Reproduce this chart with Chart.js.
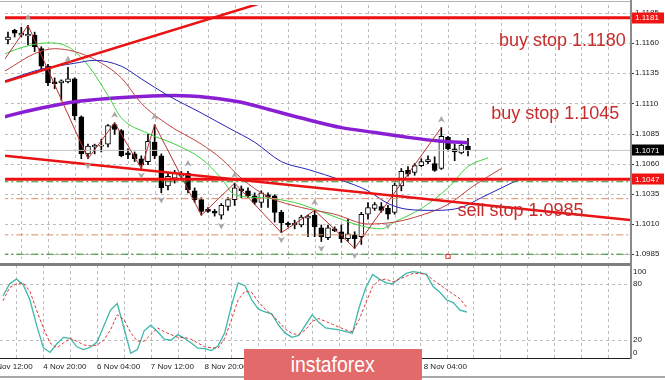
<!DOCTYPE html>
<html><head><meta charset="utf-8">
<script src="https://cdn.jsdelivr.net/npm/chart.js@4.4.1/dist/chart.umd.min.js"></script>
<style>
html,body{margin:0;padding:0;background:#fff;width:665px;height:380px;overflow:hidden;position:relative;font-family:'Liberation Sans',Arial,sans-serif}
canvas{position:absolute;left:0}
#cA{top:0}
#cB{top:264px}
.band{position:absolute;background:#7f7f7f}
#logo{position:absolute;left:244px;top:349px;width:178px;height:31px;background:#e36a6a;color:#fff;font-size:22px;text-align:center;line-height:31px}
#logo span{display:inline-block;transform:scaleX(0.88)}
</style></head><body>
<canvas id="cA" width="665" height="264"></canvas>
<canvas id="cB" width="665" height="116"></canvas>
<div class="band" style="left:0;top:263px;width:631px;height:3px"></div>
<div class="band" style="left:630px;top:0;width:1.5px;height:359px;background:#8a8a8a"></div>
<div class="band" style="left:0;top:376px;width:665px;height:2px;background:#a8a8a8"></div>
<div id="logo"><span>instaforex</span></div>
<script>
// ---- candles (H4 bars, index 0..69) ----
const opens  = [1.11625,1.11706,1.11666,1.11658,1.11666,1.11553,1.11408,1.11278,1.11270,1.11278,
                1.11303,1.10988,1.10681,1.10738,1.10746,1.10762,1.10923,1.10875,1.10689,1.10681,
                1.10641,1.10617,1.10778,1.10665,1.10415,1.10479,1.10496,1.10520,1.10375,1.10302,
                1.10221,1.10205,1.10173,1.10245,1.10302,1.10391,1.10375,1.10334,1.10278,1.10342,
                1.10334,1.10197,1.10108,1.10092,1.10092,1.10149,1.10173,1.10068,1.09987,1.10060,
                1.10036,1.09979,1.10011,1.09995,1.10181,1.10229,1.10245,1.10229,1.10197,1.10415,
                1.10544,1.10528,1.10584,1.10617,1.10601,1.10560,1.10818,1.10722,1.10689,1.10746];
const highs  = [1.11690,1.11714,1.11730,1.11746,1.11690,1.11569,1.11424,1.11311,1.11295,1.11399,
                1.11311,1.10996,1.10762,1.10762,1.10802,1.10923,1.10939,1.10883,1.10722,1.10697,
                1.10665,1.10843,1.10923,1.10681,1.10520,1.10544,1.10536,1.10536,1.10399,1.10318,
                1.10237,1.10221,1.10270,1.10318,1.10439,1.10415,1.10399,1.10358,1.10375,1.10358,
                1.10342,1.10213,1.10116,1.10132,1.10173,1.10173,1.10213,1.10092,1.10092,1.10076,
                1.10092,1.10141,1.10036,1.10197,1.10278,1.10278,1.10278,1.10254,1.10439,1.10560,
                1.10576,1.10601,1.10641,1.10665,1.10657,1.10899,1.10826,1.10762,1.10786,1.10810];
const lows   = [1.11593,1.11650,1.11650,1.11585,1.11529,1.11383,1.11246,1.11222,1.11125,1.11270,
                1.10964,1.10641,1.10641,1.10681,1.10697,1.10738,1.10843,1.10657,1.10641,1.10617,
                1.10560,1.10592,1.10641,1.10358,1.10383,1.10439,1.10471,1.10358,1.10278,1.10173,
                1.10197,1.10165,1.10141,1.10213,1.10254,1.10318,1.10318,1.10262,1.10237,1.10237,
                1.10116,1.10028,1.10076,1.10060,1.10076,1.09995,1.09995,1.09955,1.09971,1.10036,
                1.09947,1.09955,1.09898,1.09931,1.10141,1.10213,1.10197,1.10141,1.10181,1.10375,
                1.10496,1.10504,1.10576,1.10601,1.10536,1.10552,1.10705,1.10625,1.10681,1.10665];
const closes = [1.11650,1.11682,1.11682,1.11674,1.11569,1.11408,1.11270,1.11262,1.11287,1.11303,
                1.10996,1.10681,1.10746,1.10754,1.10754,1.10915,1.10883,1.10665,1.10673,1.10641,
                1.10592,1.10786,1.10665,1.10399,1.10496,1.10520,1.10512,1.10383,1.10302,1.10205,
                1.10205,1.10189,1.10254,1.10302,1.10399,1.10375,1.10334,1.10278,1.10358,1.10326,
                1.10197,1.10108,1.10092,1.10108,1.10157,1.10165,1.10076,1.09995,1.10068,1.10044,
                1.09979,1.10019,1.09979,1.10181,1.10237,1.10262,1.10213,1.10181,1.10423,1.10536,
                1.10512,1.10584,1.10617,1.10633,1.10544,1.10826,1.10722,1.10697,1.10754,1.10713];

// ---- indicators (bar index, price) ----
const maIdx = [-1,0,5,10,15,20,25,30,35,40,45,50,55,60,65,69];
const maVal = [1.10980,1.10996,1.11061,1.11113,1.11141,1.11157,1.11165,1.11149,1.11109,1.11036,1.10964,1.10899,1.10859,1.10818,1.10786,1.10774];
const jawIdx = [-1,0,5,10,13,17,20,24,29,33,37,41,45,50,54,57,60,64,68,71,77];
const jawVal = [1.11278,1.11295,1.11383,1.11432,1.11456,1.11408,1.11303,1.11165,1.11020,1.10899,1.10778,1.10617,1.10552,1.10463,1.10375,1.10270,1.10221,1.10213,1.10237,1.10318,1.10479];
const teethIdx = [-1,0,4,7,10,13,17,20,24,29,32,35,39,44,49,54,58,62,66,70,74];
const teethVal = [1.11351,1.11383,1.11512,1.11553,1.11529,1.11464,1.11311,1.11101,1.10923,1.10762,1.10641,1.10479,1.10326,1.10237,1.10181,1.10100,1.10116,1.10173,1.10262,1.10423,1.10560];
const lipsIdx = [-1,0,3,6,9,12,15,17,21,25,29,32,34,38,43,48,53,56,58,62,66,69,72];
const lipsVal = [1.11496,1.11521,1.11577,1.11601,1.11569,1.11416,1.11165,1.10980,1.10851,1.10762,1.10641,1.10479,1.10342,1.10318,1.10278,1.10181,1.10084,1.10060,1.10116,1.10229,1.10399,1.10576,1.10649];
const zigIdx = [-1,3,12,16,20,22,29,34,41,46,52,65];
const zigVal = [1.11424,1.11746,1.10641,1.10939,1.10560,1.10923,1.10173,1.10439,1.10028,1.10213,1.09898,1.10899];
const fractalUp = [3,9,16,22,27,34,46,65];
const fractalDown = [12,20,23,32,41,47,52,57];

// ---- drawn objects ----
const levelsRed = [1.1181, 1.1047];
const levelsGreen = [1.1045, 1.0985];
const levelsOrange = [1.1031, 1.1001];
const bidLevel = 1.1071;
const trendUpIdx = [-0.45, 40];   const trendUpVal = [1.11278, 1.11966];
const trendDownIdx = [-0.45, 93.3]; const trendDownVal = [1.10665, 1.10133];
const markIdx = [66]; const markVal = [1.0983];
const notes = ['buy stop 1.1180', 'buy stop 1.1045', 'sell stop 1.0985'];
const noteIdx = [73.66, 72.47, 67.41];
const noteVal = [1.11577, 1.10972, 1.10165];

// ---- axes ----
const priceTicks = [1.0985,1.1010,1.1035,1.1060,1.1085,1.1110,1.1135,1.1160,1.1185];
const boxValues = [1.1181, 1.1071, 1.1047];
const boxColors = ['#f01414', '#000000', '#f01414'];
const stochTicks = [100, 80, 20, 0];
const stochGrid = [20, 80];
const timeIdx = [-2, 6, 14, 22, 30, 62.6];
const timeLabels = ['4 Nov 12:00','4 Nov 20:00','6 Nov 04:00','7 Nov 12:00','8 Nov 20:00','8 Nov 04:00'];

// ---- stochastic ----
const stochMain = [67,80,85,79,63,36,12,7,16,23, 22,13,10,12.5,18,35,52,59,33,6,
                   10,30,36,29,21,20,26,22,17,11.5, 11,9,14,28,57,81,78,63,53,50,
                   48,36,27.5,23,25,36,47,39,33,32, 31,29,27.5,55,76,90,85,81,80,86,
                   91,93,92,90,77,71,63,60,52,50];
const stochSignal = [62,76,80,81,72,52,33,17,12,17, 22,19,15,14,14.7,20,31,47,42,28,
                     19,19,26,33,29,26,23,23,21,17, 13,12,11.5,22,42,63,72,71,61,53,
                     47,40,32,27,26,31,40,43,40,37, 34,31,29,42,60,77,84,85,82,85,
                     88,91,91,90,84,79,74,69,64,55];

const X_MIN = -0.446, X_MAX = 93.3;
const gridColor = '#bdbdbd';
const gridIdx = []; for (let i = 2; i < 94; i += 4) gridIdx.push(i);

function L(idx, vals, color, width, dash, order, extra) {
  return Object.assign({type:'line', data: idx.map((x,k)=>({x:x, y:vals[k]})),
    borderColor:color, borderWidth:width, borderDash:dash||[], pointRadius:0,
    fill:false, tension:0, order:order}, extra||{});
}
function xScale(h) {
  return {type:'linear', min:X_MIN, max:X_MAX, offset:false,
    afterFit:s=>{ s.height = h; s.paddingLeft = 0; s.paddingRight = 0; },
    grid:{display:false}, border:{display:false}, ticks:{display:false}};
}
function arrow(ctx, px, py, dir) {
  ctx.beginPath();
  ctx.moveTo(px, py - 3.5*dir);
  ctx.lineTo(px + 3.5, py + 3*dir);
  ctx.lineTo(px, py + 1.2*dir);
  ctx.lineTo(px - 3.5, py + 3*dir);
  ctx.closePath(); ctx.fill();
}
// dotted grid drawn through the chart's own scales
function gridPlugin(yTicks, tickMarks) {
  return {
    id:'dotGrid',
    beforeDatasetsDraw(chart) {
      const {ctx, scales:{x, y}, chartArea:ca} = chart;
      ctx.save();
      ctx.strokeStyle = gridColor; ctx.lineWidth = 1; ctx.setLineDash([3,3]);
      ctx.beginPath();
      gridIdx.forEach(v=>{
        const px = Math.round(x.getPixelForValue(v)) + 0.5;
        if (px < ca.left || px > ca.right) return;
        ctx.moveTo(px, ca.top); ctx.lineTo(px, ca.bottom);
      });
      yTicks.forEach(v=>{
        const py = Math.round(y.getPixelForValue(v)) + 0.5;
        ctx.moveTo(ca.left, py); ctx.lineTo(ca.right, py);
      });
      ctx.stroke();
      if (tickMarks) {
        ctx.setLineDash([]); ctx.strokeStyle = '#404040'; ctx.beginPath();
        yTicks.forEach(v=>{
          const py = Math.round(y.getPixelForValue(v)) + 0.5;
          ctx.moveTo(ca.right + 1, py); ctx.lineTo(ca.right + 4, py);
        });
        ctx.stroke();
      }
      ctx.restore();
    }
  };
}

const bull = closes.map((c,i)=>c >= opens[i]);
const dsA = [
  {type:'bar', data: lows.map((l,i)=>({x:i, y:[l, highs[i]]})), backgroundColor:'#000', barThickness:1, grouped:false, order:11},
  {type:'bar', data: opens.map((o,i)=>({x:i, y:[o, closes[i]]})), backgroundColor: bull.map(b=>b?'#ffffff':'#000000'),
    borderColor:'#000', borderWidth:1, borderSkipped:false, barThickness:5, grouped:false, order:10},
  L(maIdx, maVal, '#8a1ed2', 3.5, [], 6, {cubicInterpolationMode:'monotone'}),
  L(jawIdx, jawVal, '#2424b8', 1, [], 5, {cubicInterpolationMode:'monotone'}),
  L(teethIdx, teethVal, '#c04040', 1, [], 5, {cubicInterpolationMode:'monotone'}),
  L(lipsIdx, lipsVal, '#3cd23c', 1, [], 5, {cubicInterpolationMode:'monotone'}),
  L(zigIdx, zigVal, '#b83030', 1, [], 4),
  L([-1,95], [bidLevel,bidLevel], '#c4c4c4', 1, [], 7),
  ...levelsGreen.map(v=>L([-1,95],[v,v],'#2a8a2a',1,[7,3,2,3],3)),
  ...levelsOrange.map(v=>L([-1,95],[v,v],'#e08a6a',1,[7,3,2,3],3)),
  ...levelsRed.map(v=>L([-1,95],[v,v],'#ee1010',3,[],1)),
  L(trendUpIdx, trendUpVal, '#ea1212', 2.5, [], 1),
  L(trendDownIdx, trendDownVal, '#ea1212', 2.5, [], 1),
  L(markIdx, markVal, '#e02020', 1, [], 1, {showLine:false, pointRadius:3, pointStyle:'rect', pointBorderColor:'#e02020', pointBackgroundColor:'rgba(0,0,0,0)', pointBorderWidth:1})
];

const overlayA = {
  id:'overlayA',
  afterDatasetsDraw(chart) {
    const {ctx, scales:{x, y}, chartArea:ca} = chart;
    ctx.save();
    ctx.beginPath(); ctx.rect(ca.left, ca.top, ca.right-ca.left, ca.bottom-ca.top); ctx.clip();
    ctx.fillStyle = '#a8a8a8';
    fractalUp.forEach(i=>arrow(ctx, x.getPixelForValue(i), y.getPixelForValue(highs[i]) - 8, 1));
    fractalDown.forEach(i=>arrow(ctx, x.getPixelForValue(i), y.getPixelForValue(lows[i]) + 7, -1));
    ctx.font = '18px "Liberation Sans", Arial, sans-serif';
    ctx.fillStyle = '#c62c2c'; ctx.textAlign = 'left'; ctx.textBaseline = 'alphabetic';
    notes.forEach((t,k)=>ctx.fillText(t, x.getPixelForValue(noteIdx[k]), y.getPixelForValue(noteVal[k])));
    ctx.restore();
  },
  afterDraw(chart) {
    const {ctx, scales:{y}, chartArea:ca} = chart;
    ctx.save();
    ctx.fillStyle = '#b4b4b4'; ctx.fillRect(0, 1, ca.right + 1, 1);
    ctx.font = '8px "Liberation Sans", Arial, sans-serif';
    ctx.textBaseline = 'middle'; ctx.textAlign = 'left';
    boxValues.forEach((v,k)=>{
      const py = y.getPixelForValue(v);
      ctx.fillStyle = boxColors[k]; ctx.fillRect(ca.right + 2, Math.round(py) - 5.5, 32, 11);
      ctx.fillStyle = '#ffffff'; ctx.fillText(v.toFixed(4), ca.right + 5, py + 0.5);
    });
    ctx.restore();
  }
};

new Chart(document.getElementById('cA'), {
  type:'bar',
  data:{datasets: dsA},
  options:{
    responsive:false, animation:false, devicePixelRatio:1,
    layout:{padding:{top:2, left:0, right:0, bottom:0}},
    plugins:{legend:{display:false}, tooltip:{enabled:false}},
    scales:{
      x: xScale(1),
      y: {type:'linear', position:'right', min:1.0981, max:1.11915, beginAtZero:false,
        afterBuildTicks:s=>{ s.ticks = priceTicks.map(v=>({value:v})); },
        afterFit:s=>{ s.width = 35; s.paddingTop = 0; s.paddingBottom = 0; },
        grid:{display:false, drawTicks:false},
        border:{display:false},
        ticks:{padding:5, color:'#1a1a1a', autoSkip:false, font:{family:'Liberation Sans', size:8}, callback:v=>Number(v).toFixed(4)}}
    }
  },
  plugins:[gridPlugin(priceTicks, true), overlayA]
});

const overlayB = {
  id:'overlayB',
  afterDraw(chart) {
    const {ctx, scales:{x, y}, chartArea:ca} = chart;
    ctx.save();
    ctx.fillStyle = '#202020'; ctx.fillRect(0, Math.round(ca.bottom) - 1, ca.right + 1, 1);
    ctx.font = '8px "Liberation Sans", Arial, sans-serif';
    ctx.fillStyle = '#1a1a1a'; ctx.textAlign = 'left'; ctx.textBaseline = 'middle';
    stochTicks.forEach(v=>{
      let py = y.getPixelForValue(v);
      if (v === 100) py += 7; if (v === 0) py -= 6;
      ctx.fillText(String(v), ca.right + 3, py);
    });
    timeIdx.forEach((i,k)=>ctx.fillText(timeLabels[k], x.getPixelForValue(i), ca.bottom + 8));
    ctx.restore();
  }
};

new Chart(document.getElementById('cB'), {
  type:'line',
  data:{datasets:[
    {data: stochSignal.map((v,i)=>({x:i, y:v})), borderColor:'#d63c3c', borderWidth:1, borderDash:[3,2], pointRadius:0, tension:0},
    {data: stochMain.map((v,i)=>({x:i, y:v})), borderColor:'#3cb8aa', borderWidth:1.3, pointRadius:0, tension:0}
  ]},
  options:{
    responsive:false, animation:false, devicePixelRatio:1,
    layout:{padding:{top:1, left:0, right:0, bottom:0}},
    plugins:{legend:{display:false}, tooltip:{enabled:false}},
    scales:{
      x: xScale(21),
      y: {type:'linear', position:'right', min:0, max:100,
        afterFit:s=>{ s.width = 35; s.paddingTop = 0; s.paddingBottom = 0; },
        grid:{display:false}, border:{display:false}, ticks:{display:false}}
    }
  },
  plugins:[gridPlugin(stochGrid, false), overlayB]
});
</script>
</body></html>
